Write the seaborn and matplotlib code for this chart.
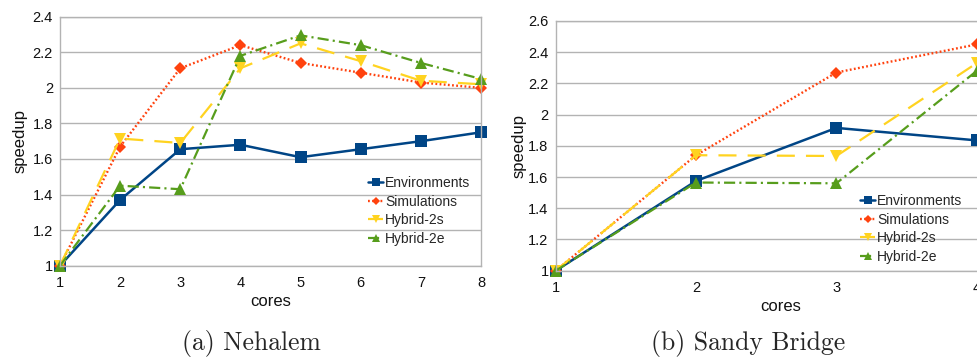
import matplotlib
matplotlib.use("Agg")
import numpy as np
import pandas as pd
import matplotlib.pyplot as plt
import seaborn as sns
from matplotlib.ticker import FuncFormatter, MultipleLocator

# ---------------- data ----------------
series = ["Environments", "Simulations", "Hybrid-2s", "Hybrid-2e"]

nehalem_cores = [1, 2, 3, 4, 5, 6, 7, 8]
nehalem_env = [1.0, 1.37, 1.655, 1.68, 1.61, 1.655, 1.70, 1.75]
nehalem_sim = [1.0, 1.67, 2.11, 2.24, 2.14, 2.085, 2.03, 2.0]
nehalem_h2s = [1.0, 1.715, 1.69, 2.11, 2.25, 2.15, 2.04, 2.02]
nehalem_h2e = [1.0, 1.45, 1.43, 2.18, 2.295, 2.24, 2.14, 2.05]

sandy_cores = [1, 2, 3, 4]
sandy_env = [1.0, 1.575, 1.915, 1.835]
sandy_sim = [1.0, 1.74, 2.27, 2.45]
sandy_h2s = [1.0, 1.74, 1.735, 2.33]
sandy_h2e = [1.0, 1.565, 1.56, 2.28]

captions = ["(a) Nehalem", "(b) Sandy Bridge"]
x_label = "cores"
y_label = "speedup"

# ---------------- style ----------------
sns.set_style("white")
plt.rcParams["font.family"] = ["Liberation Sans", "DejaVu Sans"]
plt.rcParams["lines.scale_dashes"] = False

colors = {"Environments": "#004586", "Simulations": "#ff420e",
          "Hybrid-2s": "#ffd320", "Hybrid-2e": "#579d1c"}
markers = {"Environments": "s", "Simulations": "D",
           "Hybrid-2s": "v", "Hybrid-2e": "^"}
msizes = {"Environments": 8, "Simulations": 6.5,
          "Hybrid-2s": 9, "Hybrid-2e": 8.5}
lwidths = {"Environments": 1.8, "Simulations": 1.7,
           "Hybrid-2s": 1.6, "Hybrid-2e": 1.6}
lstyles = {"Environments": "-", "Simulations": (0, (1.3, 1.7)),
           "Hybrid-2s": (0, (13, 8)), "Hybrid-2e": (0, (8, 3, 1.5, 3))}

GRAY = "#b3b3b3"

W, H = 977, 358
fig = plt.figure(figsize=(W / 100, H / 100), dpi=100)


def make_df(cores, vals):
    rows = []
    for name, v in zip(series, vals):
        for c, s in zip(cores, v):
            rows.append({"cores": c, "speedup": s, "series": name})
    return pd.DataFrame(rows)


df_a = make_df(nehalem_cores, [nehalem_env, nehalem_sim, nehalem_h2s, nehalem_h2e])
df_b = make_df(sandy_cores, [sandy_env, sandy_sim, sandy_h2s, sandy_h2e])

# axes positions (pixels -> fraction)
ax_a = fig.add_axes([60 / W, (H - 265.7) / H, 421 / W, 249 / H])
ax_b = fig.add_axes([555.7 / W, (H - 270.7) / H, 3.2 * 140.33 / W, 249.7 / H])


def draw(ax, df, xlim, ylim, ypad, leg_anchor):
    for name in series:
        sub = df[df["series"] == name]
        sns.lineplot(data=sub, x="cores", y="speedup", ax=ax,
                     color=colors[name], marker=markers[name],
                     markersize=msizes[name], linewidth=lwidths[name],
                     linestyle=lstyles[name], markeredgewidth=0,
                     markeredgecolor=colors[name], label=name,
                     legend=False, clip_on=False, estimator=None)
    ax.set_xlim(*xlim)
    ax.set_ylim(*ylim)
    ax.xaxis.set_major_locator(MultipleLocator(1))
    ax.yaxis.set_major_locator(MultipleLocator(0.2))
    ax.yaxis.set_major_formatter(FuncFormatter(lambda v, p: f"{v:g}"))
    ax.set_axisbelow(True)
    ax.yaxis.grid(True, color=GRAY, linewidth=1.0)
    ax.xaxis.grid(False)
    for sp in ax.spines.values():
        sp.set_color(GRAY)
        sp.set_linewidth(1.0)
        sp.set_visible(True)
    ax.tick_params(axis="both", direction="out", length=3.6, width=1.0,
                   color=GRAY, labelsize=10.5, labelcolor="#111111")
    ax.tick_params(axis="y", pad=1.5)
    ax.tick_params(axis="x", pad=4)
    ax.set_xlabel(x_label, fontsize=12, labelpad=3, color="#111111")
    ax.set_ylabel(y_label, fontsize=12, labelpad=ypad, color="#111111")
    handles, labels = ax.get_legend_handles_labels()
    ax.legend(handles, labels, loc="upper left", bbox_to_anchor=leg_anchor,
              bbox_transform=fig.transFigure, frameon=False, fontsize=10,
              handlelength=1.1, handletextpad=0.15, labelspacing=0.33,
              borderpad=0, borderaxespad=0, markerscale=0.65)


draw(ax_a, df_a, (1, 8), (1, 2.4), 4, (368 / W, 1 - 176 / H))
draw(ax_b, df_b, (1, 4.2), (1, 2.6), 1, (860 / W, 1 - 194 / H))

# captions
fig.text(251 / W, 1 - 350 / H, captions[0], ha="center", va="baseline",
         fontsize=18.5, family="cmr10")
fig.text(748 / W, 1 - 350 / H, captions[1], ha="center", va="baseline",
         fontsize=18.5, family="cmr10")

fig.savefig("out.png", dpi=100, facecolor="white")
